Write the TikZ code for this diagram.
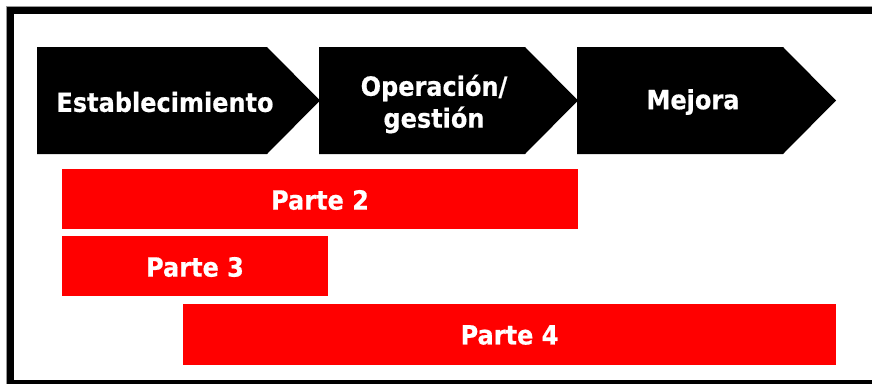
\documentclass[tikz,border=0pt]{standalone}
\usepackage{fontspec}
\newfontfamily\heavy{DejaVu Sans Bold}[FakeBold=0.6]
\begin{document}
\begin{tikzpicture}[x=1pt,y=-1pt,
  chev/.style={fill=black},
  bar/.style={fill=red},
  lbl/.style={text=white,font=\heavy\fontsize{24}{29}\selectfont,align=center,inner sep=0pt,yscale=1.1,transform shape}]
\useasboundingbox (0,0) rectangle (872,383);
\begin{scope}
\clip (0,0) rectangle (872,383);
\draw[black!40,line width=0.8pt] (6.5,6.5) rectangle (890,400);
\draw[black,line width=7pt] (10.5,10.5) rectangle (890,383.5);
\end{scope}
% chevrons
\fill[chev] (37,47) -- (267,47) -- (320,100.5) -- (267,154) -- (37,154) -- cycle;
\fill[chev] (319,47) -- (525,47) -- (578,100.5) -- (525,154) -- (319,154) -- cycle;
\fill[chev] (577,47) -- (783,47) -- (836,100.5) -- (783,154) -- (577,154) -- cycle;
\node[lbl] (est) at (165,102) {Establecimiento};
\node[lbl] (ope) at (434,104) {Operación/\\gestión};
\node[lbl] (mej) at (693,102) {Mejora};
% bars
\fill[bar] (62,169) rectangle (578,229);
\fill[bar] (62,236) rectangle (328,296);
\fill[bar] (183,304) rectangle (836,365);
\node[lbl] (p2) at (320,200) {Parte 2};
\node[lbl] (p3) at (195,267) {Parte 3};
\node[lbl] (p4) at (509.5,335) {Parte 4};
\end{tikzpicture}
\end{document}
